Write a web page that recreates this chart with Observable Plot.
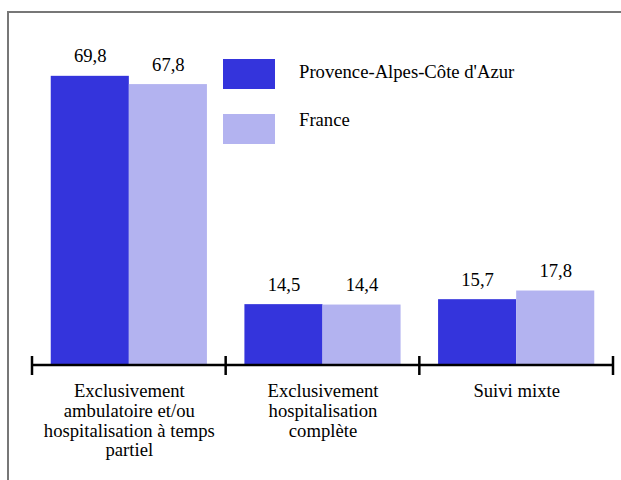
<!DOCTYPE html>
<html>
<head>
<meta charset="utf-8">
<script src="https://cdn.jsdelivr.net/npm/d3@7"></script>
<script src="https://cdn.jsdelivr.net/npm/@observablehq/plot@0.6"></script>
<style>
  html, body { margin: 0; padding: 0; background: #fff; overflow: hidden; }
  #wrap { position: relative; width: 621px; height: 480px; overflow: hidden; }
  #border { position: absolute; left: 7px; top: 11px; width: 700px; height: 600px; border: 2px solid #777; box-sizing: border-box; pointer-events: none; z-index: 5; }
  #chart { position: absolute; left: 0; top: 0; }
  .leg { position: absolute; font-family: "Liberation Serif", "Times New Roman", Times, "Tinos", "DejaVu Serif", serif; font-size: 18.67px; color: #000; line-height: 21px; white-space: nowrap; }
  .sw { position: absolute; width: 52px; height: 30px; }
</style>
</head>
<body>
<div id="wrap">
  <div id="chart"></div>
  <div id="legend"></div>
  <div id="border"></div>
</div>
<script>
const categories = [
  "Exclusivement ambulatoire et/ou hospitalisation à temps partiel",
  "Exclusivement hospitalisation complète",
  "Suivi mixte"
];
const tickLabels = [
  "Exclusivement\nambulatoire et/ou\nhospitalisation à temps\npartiel",
  "Exclusivement\nhospitalisation\ncomplète",
  "Suivi mixte"
];
const series = ["Provence-Alpes-Côte d'Azur", "France"];
const pacaValues = [69.8, 14.5, 15.7];
const franceValues = [67.8, 14.4, 17.8];
const colors = ["#3434DC", "#B3B3F0"];

const data = [];
categories.forEach((c, i) => {
  data.push({cat: c, series: series[0], value: pacaValues[i]});
  data.push({cat: c, series: series[1], value: franceValues[i]});
});

const fmt = v => v.toFixed(1).replace(".", ",");
const serif = "'Liberation Serif', 'Times New Roman', Times, Tinos, 'DejaVu Serif', serif";

const plot = Plot.plot({
  width: 621,
  height: 480,
  marginLeft: 32,
  marginRight: 8,
  marginTop: 75,
  marginBottom: 116,
  style: {fontFamily: serif, fontSize: "18.67px", color: "#000", background: "transparent", overflow: "visible"},
  fx: {domain: categories, padding: 0, round: false, label: null},
  x: {domain: series, paddingInner: 0, paddingOuter: 0.24, round: false, axis: null},
  y: {domain: [0, 70], axis: null},
  color: {domain: series, range: colors},
  marks: [
    Plot.barY(data, {fx: "cat", x: "series", y: "value", fill: "series"}),
    Plot.text(data, {fx: "cat", x: "series", y: "value", text: d => fmt(d.value), dy: -14, lineAnchor: "bottom", fontSize: 18.67, fontFamily: serif, fill: "#000"}),
    Plot.axisFx({anchor: "bottom", tickSize: 0, tickPadding: 19, label: null, fontSize: 18.67, fontFamily: serif, lineHeight: 1.05,
      tickFormat: d => tickLabels[categories.indexOf(d)]})
  ]
});
document.getElementById("chart").appendChild(plot);

// baseline with group-boundary ticks, using Plot's scales
const fx = plot.scale("fx");
const y = plot.scale("y");
const svg = d3.select(plot);
const y0 = y.apply(0) + 1;
const bounds = categories.map(c => fx.apply(c)).concat([fx.apply(categories[categories.length - 1]) + fx.bandwidth]);
const g = svg.append("g").attr("stroke", "#000").attr("stroke-width", 2.5);
g.append("line").attr("x1", bounds[0]).attr("x2", bounds[bounds.length - 1]).attr("y1", y0).attr("y2", y0);
bounds.forEach(b => g.append("line").attr("x1", b).attr("x2", b).attr("y1", y0 - 9).attr("y2", y0 + 10));

// legend
const legend = document.getElementById("legend");
const legTops = [59, 114];
const legTextTops = [60.5, 108.5];
series.forEach((s, i) => {
  const sw = document.createElement("div");
  sw.className = "sw";
  sw.style.left = "223px";
  sw.style.top = legTops[i] + "px";
  sw.style.background = colors[i];
  legend.appendChild(sw);
  const t = document.createElement("div");
  t.className = "leg";
  t.style.left = "299px";
  t.style.top = legTextTops[i] + "px";
  t.textContent = s;
  legend.appendChild(t);
});
</script>
</body>
</html>
